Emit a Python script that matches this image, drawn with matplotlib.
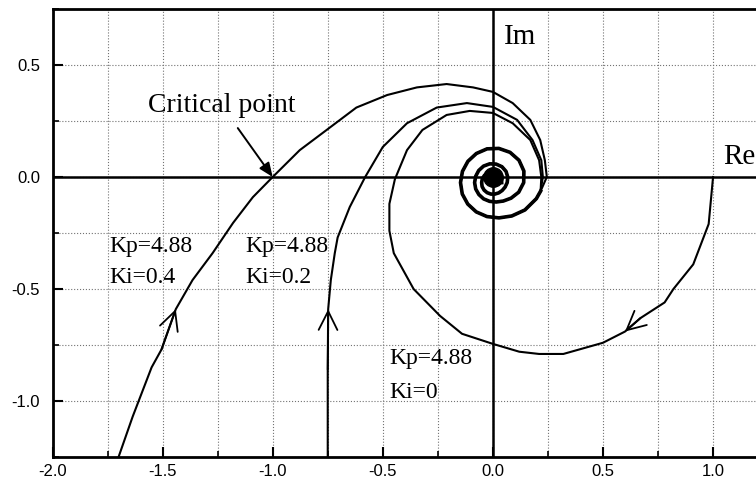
import matplotlib
matplotlib.use("Agg")
import matplotlib.pyplot as plt
import numpy as np

# Nyquist curves, Kp = 4.88 with three integral gains
ki04_x = [-1.70, -1.636, -1.55, -1.505, -1.44, -1.364, -1.273, -1.18, -1.09, -1.0,
          -0.877, -0.755, -0.62, -0.48, -0.345, -0.21, -0.09, 0.0, 0.09, 0.17,
          0.215, 0.236, 0.245]
ki04_y = [-1.25, -1.07, -0.85, -0.77, -0.59, -0.46, -0.34, -0.205, -0.09, 0.0,
          0.12, 0.21, 0.31, 0.366, 0.40, 0.415, 0.40, 0.38, 0.33, 0.255,
          0.165, 0.075, 0.0]

ki02_x = [-0.75, -0.75, -0.748, -0.736, -0.718, -0.705, -0.65, -0.58, -0.50, -0.39,
          -0.255, -0.118, 0.0, 0.11, 0.18, 0.22, 0.227]
ki02_y = [-1.25, -0.86, -0.59, -0.46, -0.34, -0.27, -0.134, 0.0, 0.134, 0.24,
          0.31, 0.33, 0.313, 0.255, 0.165, 0.075, 0.0]

ki0_x = [1.0, 0.98, 0.91, 0.82, 0.78, 0.67, 0.60, 0.50, 0.32, 0.21,
         0.12, 0.0, -0.14, -0.24, -0.36, -0.45, -0.47, -0.47, -0.445, -0.39,
         -0.32, -0.21, -0.105, 0.0, 0.09, 0.17, 0.21, 0.22]
ki0_y = [0.0, -0.21, -0.39, -0.50, -0.56, -0.63, -0.69, -0.74, -0.79, -0.79,
         -0.78, -0.745, -0.70, -0.62, -0.50, -0.34, -0.24, -0.12, -0.01, 0.12,
         0.21, 0.277, 0.295, 0.286, 0.24, 0.165, 0.075, 0.0]

# common inner spiral (polar, around a centre just below the origin)
spiral_center = (0.0, -0.025)
spiral_deg = [-10] + list(range(-20, -1100, -20))
spiral_r = [0.22,
            0.21, 0.19, 0.172, 0.16, 0.154, 0.151, 0.149, 0.148, 0.147, 0.147,
            0.148, 0.150, 0.153, 0.155, 0.156, 0.155, 0.150, 0.140, 0.125, 0.108,
            0.095, 0.088, 0.085, 0.084, 0.083, 0.083, 0.083, 0.083, 0.084, 0.085,
            0.085, 0.084, 0.082, 0.078, 0.072, 0.065, 0.059, 0.055, 0.053, 0.052,
            0.052, 0.052, 0.052, 0.052, 0.051, 0.051, 0.050, 0.050, 0.049, 0.048,
            0.046, 0.044, 0.042, 0.040]

# index of the point carrying the direction arrow on each curve
arrow_idx = {"ki04": 4, "ki02": 2, "ki0": 6}

serif = "Liberation Serif"
plt.rcParams["font.family"] = "Liberation Sans"

fig = plt.figure(figsize=(7.56, 4.84), dpi=100)
ax = fig.add_axes([52.5 / 756, 27 / 484, 1 - 52.5 / 756, 448 / 484])
ax.set_xlim(-2.0, 1.195)
ax.set_ylim(-1.25, 0.75)

ax.set_xticks([-2.0, -1.5, -1.0, -0.5, 0.0, 0.5, 1.0])
ax.set_xticks(np.arange(-2.0, 1.2, 0.25), minor=True)
ax.set_yticks([-1.0, -0.5, 0.0, 0.5])
ax.set_yticks(np.arange(-1.25, 0.76, 0.25), minor=True)
ax.xaxis.set_major_formatter(plt.FormatStrFormatter("%.1f"))
ax.yaxis.set_major_formatter(plt.FormatStrFormatter("%.1f"))
ax.tick_params(which="major", direction="in", length=7, width=1.5, labelsize=12)
ax.tick_params(axis="x", which="major", pad=5)
ax.tick_params(axis="y", which="major", pad=9)
ax.tick_params(which="minor", direction="in", length=4, width=1.2)
ax.grid(which="both", color="0.45", linestyle=":", linewidth=0.8)
for side in ["left", "top", "bottom"]:
    ax.spines[side].set_linewidth(2)
ax.spines["right"].set_visible(False)

# real and imaginary axes
ax.axhline(0, color="black", lw=1.8, zorder=2)
ax.axvline(0, color="black", lw=1.8, zorder=2)

sx = spiral_center[0] + np.array(spiral_r) * np.cos(np.radians(spiral_deg))
sy = spiral_center[1] + np.array(spiral_r) * np.sin(np.radians(spiral_deg))
ax.plot([0], [0], marker="o", markersize=14, color="black", zorder=4)

curves = {"ki04": (ki04_x, ki04_y), "ki02": (ki02_x, ki02_y), "ki0": (ki0_x, ki0_y)}
for key, (xs, ys) in curves.items():
    # each curve runs on into the shared spiral around the origin
    ax.plot(np.concatenate([xs, sx]), np.concatenate([ys, sy]),
            color="black", lw=1.5, zorder=3)
    i = arrow_idx[key]
    ax.annotate("", xy=(xs[i], ys[i]), xytext=(xs[i - 1], ys[i - 1]),
                arrowprops=dict(arrowstyle="->,head_length=0.9,head_width=0.45",
                                lw=1.3, color="black", mutation_scale=15,
                                shrinkA=0, shrinkB=0), zorder=4)
ax.plot(sx, sy, color="black", lw=2.6, zorder=3)

ax.annotate("Critical point", xy=(-1.0, 0.0), xytext=(-1.23, 0.317),
            fontsize=20, family=serif, ha="center", va="center",
            arrowprops=dict(arrowstyle="-|>,head_length=0.6,head_width=0.25",
                            lw=1.4, color="black", mutation_scale=14,
                            shrinkA=6, shrinkB=0))

ax.text(-1.74, -0.31, "Kp=4.88", fontsize=17, family=serif, va="center")
ax.text(-1.74, -0.45, "Ki=0.4", fontsize=17, family=serif, va="center")
ax.text(-1.123, -0.31, "Kp=4.88", fontsize=17, family=serif, va="center")
ax.text(-1.123, -0.45, "Ki=0.2", fontsize=17, family=serif, va="center")
ax.text(-0.468, -0.81, "Kp=4.88", fontsize=17, family=serif, va="center")
ax.text(-0.468, -0.96, "Ki=0", fontsize=17, family=serif, va="center")
ax.text(0.05, 0.625, "Im", fontsize=21, family=serif, va="center")
ax.text(1.045, 0.09, "Re", fontsize=21, family=serif, va="center")

fig.savefig("out.png", dpi=100)
